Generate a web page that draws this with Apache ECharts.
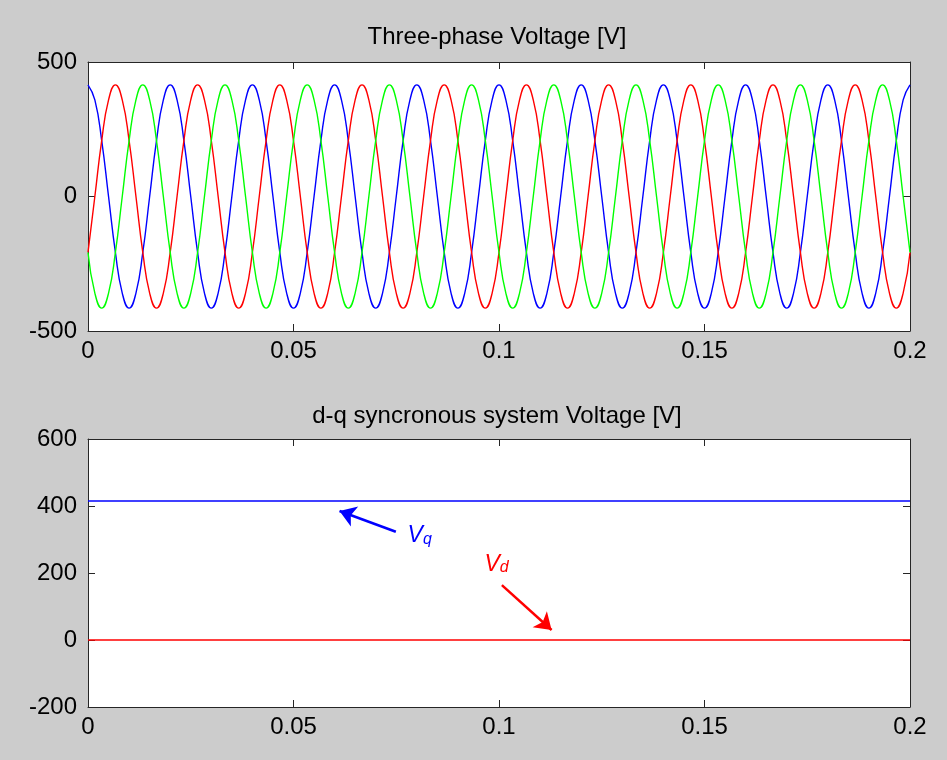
<!DOCTYPE html>
<html>
<head>
<meta charset="utf-8">
<script src="https://cdn.jsdelivr.net/npm/echarts@6/dist/echarts.min.js"></script>
<style>
html,body{margin:0;padding:0;background:#cccccc;}
#chart{width:947px;height:760px;}
</style>
</head>
<body>
<div id="chart"></div>
<script>
// ---------- data ----------
// Three-phase voltages sampled every 1/600 s (30 degrees of the 50 Hz cycle), 0 .. 0.2 s
const sampleStep = 0.02 / 12;
const phaseBlue = [
  415,359,208,0,-208,-359,-415,-359,-208,0,208,359,
  415,359,208,0,-208,-359,-415,-359,-208,0,208,359,
  415,359,208,0,-208,-359,-415,-359,-208,0,208,359,
  415,359,208,0,-208,-359,-415,-359,-208,0,208,359,
  415,359,208,0,-208,-359,-415,-359,-208,0,208,359,
  415,359,208,0,-208,-359,-415,-359,-208,0,208,359,
  415,359,208,0,-208,-359,-415,-359,-208,0,208,359,
  415,359,208,0,-208,-359,-415,-359,-208,0,208,359,
  415,359,208,0,-208,-359,-415,-359,-208,0,208,359,
  415,359,208,0,-208,-359,-415,-359,-208,0,208,359,
  415
];
const phaseRed = [
  -208,0,208,359,415,359,208,0,-208,-359,-415,-359,
  -208,0,208,359,415,359,208,0,-208,-359,-415,-359,
  -208,0,208,359,415,359,208,0,-208,-359,-415,-359,
  -208,0,208,359,415,359,208,0,-208,-359,-415,-359,
  -208,0,208,359,415,359,208,0,-208,-359,-415,-359,
  -208,0,208,359,415,359,208,0,-208,-359,-415,-359,
  -208,0,208,359,415,359,208,0,-208,-359,-415,-359,
  -208,0,208,359,415,359,208,0,-208,-359,-415,-359,
  -208,0,208,359,415,359,208,0,-208,-359,-415,-359,
  -208,0,208,359,415,359,208,0,-208,-359,-415,-359,
  -208
];
const phaseGreen = [
  -208,-359,-415,-359,-208,0,208,359,415,359,208,0,
  -208,-359,-415,-359,-208,0,208,359,415,359,208,0,
  -208,-359,-415,-359,-208,0,208,359,415,359,208,0,
  -208,-359,-415,-359,-208,0,208,359,415,359,208,0,
  -208,-359,-415,-359,-208,0,208,359,415,359,208,0,
  -208,-359,-415,-359,-208,0,208,359,415,359,208,0,
  -208,-359,-415,-359,-208,0,208,359,415,359,208,0,
  -208,-359,-415,-359,-208,0,208,359,415,359,208,0,
  -208,-359,-415,-359,-208,0,208,359,415,359,208,0,
  -208,-359,-415,-359,-208,0,208,359,415,359,208,0,
  -208
];
// d-q voltages
const dqTime = [0, 0.2];
const vq = [415, 415];
const vd = [0, 0];
// tick labels
const xTickLabels = ['0', '0.05', '0.1', '0.15', '0.2'];
const topYTickLabels = ['-500', '0', '500'];
const bottomYTickLabels = ['-200', '0', '200', '400', '600'];
// annotations (data coordinates)
const vqArrow = [[0.0749, 323], [0.0612, 385]];
const vdArrow = [[0.1007, 164], [0.1128, 30]];
const vqLabelAt = [0.0807, 316];
const vdLabelAt = [0.0994, 231];

// ---------- build ----------
function pairs(values, step) {
  return values.map((v, i) => [i * step, v]);
}
function zip(xs, ys) { return xs.map((x, i) => [x, ys[i]]); }

const FONT = "'Liberation Sans', Arial, Helvetica, sans-serif";
const AX = '#262626';

function xAx(grid, pos, labels) {
  return {
    type: 'value', gridIndex: grid, position: pos, min: 0, max: 0.2, interval: 0.05,
    axisLine: { show: true, onZero: false, lineStyle: { color: AX, width: 1 } },
    axisTick: { show: true, inside: true, length: 7, lineStyle: { color: AX, width: 1 } },
    axisLabel: labels ? {
      show: true, margin: 8, fontSize: 24, fontFamily: FONT, color: '#000',
      formatter: v => xTickLabels[Math.round(v / 0.05)]
    } : { show: false },
    splitLine: { show: false }
  };
}
function yAx(grid, pos, min, max, interval, tickLabels) {
  return {
    type: 'value', gridIndex: grid, position: pos, min: min, max: max, interval: interval,
    axisLine: { show: true, onZero: false, lineStyle: { color: AX, width: 1 } },
    axisTick: { show: true, inside: true, length: 7, lineStyle: { color: AX, width: 1 } },
    axisLabel: tickLabels ? {
      show: true, margin: 11, fontSize: 24, fontFamily: FONT, color: '#000',
      formatter: v => tickLabels[Math.round((v - min) / interval)]
    } : { show: false },
    splitLine: { show: false }
  };
}

function line(name, data, color, xi, yi, smooth) {
  return {
    name: name, type: 'line', xAxisIndex: xi, yAxisIndex: yi, data: data,
    showSymbol: false, symbol: 'none', smooth: smooth, animation: false,
    lineStyle: { color: color, width: 1.4 }, itemStyle: { color: color },
    emphasis: { disabled: true }, silent: true
  };
}

const labelRich = (color) => ({
  v: { fontSize: 23, fontStyle: 'italic', fontFamily: FONT, color: color, verticalAlign: 'bottom', lineHeight: 26 },
  s: { fontSize: 16, fontStyle: 'italic', fontFamily: FONT, color: color, verticalAlign: 'bottom', lineHeight: 22 }
});

function arrowMark(color, pts) {
  return {
    silent: true, animation: false, symbol: ['none', 'arrow'], symbolSize: 16,
    label: { show: false },
    itemStyle: { color: color },
    lineStyle: { color: color, width: 2.5, type: 'solid', opacity: 1 },
    emphasis: { disabled: true },
    data: [[{ coord: pts[0] }, { coord: pts[1] }]]
  };
}

const vqSeries = line('Vq', zip(dqTime, vq), '#0000ff', 2, 2, false);
vqSeries.markLine = arrowMark('#0000ff', vqArrow);
vqSeries.markPoint = {
  silent: true, animation: false, symbol: 'circle', symbolSize: 0,
  label: { show: true, position: 'inside', formatter: '{v|V}{s|q}', rich: labelRich('#0000ff') },
  data: [{ coord: vqLabelAt }]
};
const vdSeries = line('Vd', zip(dqTime, vd), '#ff0000', 2, 2, false);
vdSeries.markLine = arrowMark('#ff0000', vdArrow);
vdSeries.markPoint = {
  silent: true, animation: false, symbol: 'circle', symbolSize: 0,
  label: { show: true, position: 'inside', formatter: '{v|V}{s|d}', rich: labelRich('#ff0000') },
  data: [{ coord: vdLabelAt }]
};

const option = {
  backgroundColor: '#cccccc',
  animation: false,
  grid: [
    { left: 88, top: 62, width: 822, height: 269, show: true, backgroundColor: '#ffffff', borderWidth: 0 },
    { left: 88, top: 439, width: 822, height: 268, show: true, backgroundColor: '#ffffff', borderWidth: 0 }
  ],
  xAxis: [
    xAx(0, 'bottom', true), xAx(0, 'top', false),
    xAx(1, 'bottom', true), xAx(1, 'top', false)
  ],
  yAxis: [
    yAx(0, 'left', -500, 500, 500, topYTickLabels), yAx(0, 'right', -500, 500, 500, null),
    yAx(1, 'left', -200, 600, 200, bottomYTickLabels), yAx(1, 'right', -200, 600, 200, null)
  ],
  graphic: [
    { type: 'text', x: 497, y: 37, silent: true,
      style: { text: 'Three-phase Voltage [V]', fontSize: 24, fontFamily: FONT, fill: '#000', align: 'center', verticalAlign: 'middle' } },
    { type: 'text', x: 497, y: 416, silent: true,
      style: { text: 'd-q syncronous system Voltage [V]', fontSize: 24, fontFamily: FONT, fill: '#000', align: 'center', verticalAlign: 'middle' } }
  ],
  series: [
    line('Va', pairs(phaseBlue, sampleStep), '#0000ff', 0, 0, true),
    line('Vb', pairs(phaseRed, sampleStep), '#ff0000', 0, 0, true),
    line('Vc', pairs(phaseGreen, sampleStep), '#00ff00', 0, 0, true),
    vqSeries,
    vdSeries
  ]
};

const chart = echarts.init(document.getElementById('chart'), null, { renderer: 'canvas' });
chart.setOption(option);
</script>
</body>
</html>
